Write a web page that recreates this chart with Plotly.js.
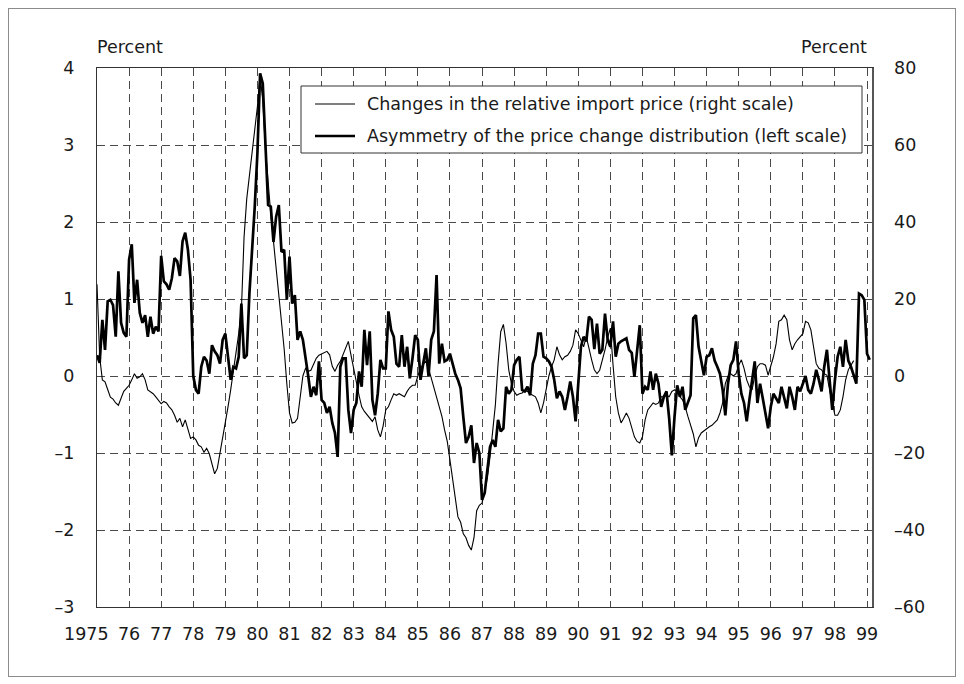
<!DOCTYPE html>
<html>
<head>
<meta charset="utf-8">
<script src="https://cdn.plot.ly/plotly-3.0.1.min.js"></script>
<style>
  html, body { margin: 0; padding: 0; background: #fff; }
  #chart { width: 964px; height: 684px; }
  #frame { position: absolute; left: 8px; top: 8px; width: 946px; height: 667px; border: 1px solid #8c8c8c; pointer-events: none; }
</style>
</head>
<body>
<div id="chart"></div>
<div id="frame"></div>
<script>
// Monthly series starting January 1975
const startYear = 1975;

// Asymmetry of the price change distribution (left scale, percent)
const asymmetry = [
  0.27, 0.17, 0.73, 0.34, 0.97, 0.99, 0.92, 0.51, 1.36, 0.69, 0.56, 0.51,
  1.51, 1.71, 0.95, 1.25, 0.82, 0.69, 0.79, 0.51, 0.77, 0.55, 0.64, 0.58,
  1.56, 1.23, 1.19, 1.12, 1.27, 1.53, 1.49, 1.30, 1.75, 1.86, 1.64, 1.25,
  0.00, -0.18, -0.23, 0.12, 0.25, 0.20, 0.03, 0.40, 0.32, 0.27, 0.16, 0.47,
  0.55, 0.21, -0.05, 0.12, 0.10, 0.25, 0.94, 0.23, 0.27, 1.07, 1.60, 2.20,
  2.90, 3.93, 3.80, 2.90, 2.22, 2.20, 1.74, 2.07, 2.22, 1.61, 1.64, 0.99,
  1.55, 0.94, 1.05, 0.47, 0.58, 0.47, 0.25, 0.00, -0.27, -0.14, -0.25, 0.19,
  -0.31, -0.35, -0.48, -0.40, -0.61, -0.74, -1.05, 0.12, 0.23, 0.23, -0.44, -0.74,
  -0.44, -0.35, 0.06, -0.14, 0.60, 0.14, 0.58, -0.31, -0.51, -0.23, 0.21, 0.10,
  0.10, 0.84, 0.60, 0.51, 0.16, 0.12, 0.53, 0.12, 0.38, -0.03, 0.23, 0.53,
  0.47, -0.05, 0.16, 0.36, 0.00, 0.47, 0.58, 1.31, 0.16, 0.42, 0.19, 0.21,
  0.29, 0.14, 0.03, -0.05, -0.16, -0.53, -0.87, -0.79, -0.64, -1.13, -0.87, -1.00,
  -1.61, -1.52, -1.18, -0.92, -0.83, -0.92, -0.57, -0.72, -0.68, -0.14, -0.23, -0.18,
  0.14, 0.21, 0.25, -0.18, -0.20, -0.14, -0.25, 0.16, 0.27, 0.55, 0.55, 0.25,
  0.23, 0.19, 0.12, -0.05, -0.29, -0.20, -0.27, -0.44, -0.27, -0.07, -0.27, -0.59,
  -0.10, 0.38, 0.51, 0.45, 0.77, 0.73, 0.35, 0.68, 0.29, 0.34, 0.81, 0.47,
  0.38, 0.71, 0.25, 0.42, 0.45, 0.47, 0.49, 0.34, 0.30, -0.01, 0.34, 0.66,
  -0.23, -0.14, -0.18, 0.06, -0.18, 0.03, -0.10, -0.40, -0.27, -0.20, -0.55, -1.03,
  -0.53, -0.12, -0.27, -0.14, -0.44, -0.35, -0.25, 0.75, 0.79, 0.38, 0.21, 0.01,
  0.25, 0.27, 0.36, 0.20, 0.12, 0.03, -0.18, -0.51, -0.10, 0.14, 0.21, 0.45,
  0.03, -0.23, -0.35, -0.59, -0.31, -0.05, 0.19, -0.35, -0.10, -0.29, -0.48, -0.68,
  -0.40, -0.23, -0.29, -0.35, -0.14, -0.27, -0.42, -0.14, -0.27, -0.44, -0.14, -0.20,
  -0.10, 0.00, -0.18, -0.23, -0.10, 0.08, -0.05, -0.20, 0.12, 0.34, -0.05, -0.44,
  -0.05, 0.25, 0.38, 0.12, 0.47, 0.20, 0.12, 0.00, -0.10, 1.07, 1.05, 0.99,
  0.29, 0.21
];

// Changes in the relative import price (right scale, percent)
const importPrice = [
  23.8, 5, -1, -1.5, -3.5, -5.5, -6, -7, -7.6, -6, -4, -3.2,
  -2.4, -1, 0.6, -0.6, -0.2, 0.6, -1, -3.6, -4, -4.6, -5.4, -6.2,
  -7.2, -6.6, -7, -8, -8.8, -10.2, -12, -11, -13.2, -11.4, -14, -16.2,
  -15.8, -16.6, -18, -18.4, -19.8, -18.8, -20.2, -22.8, -25.4, -24, -20, -17,
  -12, -8, -3.6, 1, 5.5, 11, 17, 36, 46, 52, 59, 64.8,
  70, 78, 71.6, 59, 50, 42, 35, 28.4, 21.6, 14, 7, -2,
  -9.6, -12.2, -12, -11, -5.4, 0, 2, 1.2, 1.5, 3, 4.6, 5.4,
  5.8, 6.2, 6.4, 5.5, 2.5, 1.2, 2.8, 3.8, 5.4, 7, 9, 5.4,
  1.5, -1.5, -5, -8, -9.2, -10, -11, -11.8, -10.6, -14, -15.8, -13,
  -8.8, -8, -6.2, -4.6, -5, -4.6, -5, -5.4, -4, -3, -2.4, -2.4,
  0, 2, 3, 3.8, 2, -0.5, -3, -5.5, -8, -10.5, -14, -17,
  -21.8, -27, -32, -36.6, -38, -41, -42, -44, -45.2, -42, -35, -33.6,
  -33, -30, -26.5, -21, -14, -7.5, 3.2, 11.5, 13.4, 8.5, 1.6, -2,
  -4, -5, -4.6, -4.4, -3.8, -4, -4.6, -5, -5.4, -7, -9.6, -7,
  -3.6, 0, 2.4, 4.2, 7.6, 5.5, 4.2, 5, 5.4, 6.4, 8, 12,
  11, 9.4, 7.6, 10.2, 7, 4.2, 1.6, 0.6, 1.5, 4, 6.8, 10,
  12.4, 3, -5.4, -9.6, -12.2, -11, -9.6, -11, -13.2, -15.8, -17, -17.4,
  -15.8, -11.4, -8.8, -8, -7, -7.4, -7, -5.4, -5.4, -5, -5.4, -4,
  -3.6, -3.8, -5.4, -6.2, -8, -10.5, -12.5, -15, -18.4, -16, -14.8, -14.2,
  -13.6, -13.2, -12.8, -12.2, -11.4, -9.6, -7, -2, 0, 0.6, 0, 0.6,
  2.8, 4.2, 2, -1, -2.8, -3.6, 0, 2.4, 3.2, 3.2, 2.8, 0.2,
  2.6, 5, 8.4, 14.2, 14.6, 15.8, 14.6, 9.4, 6.8, 8.4, 9.4, 10.2,
  11, 14.2, 13.8, 12, 7.6, 3.2, 2, 1.6, 0.6, 0.2, -3.6, -7,
  -10.2, -10.2, -8.8, -5.4, -1, 1.6, 2.8, 4
];

// Year ticks; the first label ("1975") is written out in full and sits left of its tick
const yearTicks = [1975, 1976, 1977, 1978, 1979, 1980, 1981, 1982, 1983, 1984, 1985, 1986,
  1987, 1988, 1989, 1990, 1991, 1992, 1993, 1994, 1995, 1996, 1997, 1998, 1999];
const yearLabels = ['1975', '76', '77', '78', '79', '80', '81', '82', '83', '84', '85', '86',
  '87', '88', '89', '90', '91', '92', '93', '94', '95', '96', '97', '98', '99'];
const leftTicks = [-3, -2, -1, 0, 1, 2, 3, 4];
const leftLabels = ['\u20133', '\u20132', '\u20131', '0', '1', '2', '3', '4'];
const rightTicks = [-60, -40, -20, 0, 20, 40, 60, 80];
const rightLabels = ['\u201360', '\u201340', '\u201320', '0', '20', '40', '60', '80'];
const seriesNames = [
  'Changes in the relative import price (right scale)',
  'Asymmetry of the price change distribution (left scale)'
];
const axisUnit = 'Percent';

const monthX = arr => arr.map((_, i) => startYear + i / 12);

const FONT = 'DejaVu Sans, Liberation Sans, Arial, sans-serif';
const FS = 17.5;
const INK = '#1a1a1a';
const GRID = '#4a4a4a';

const traces = [
  {
    x: monthX(importPrice), y: importPrice, yaxis: 'y', type: 'scatter', mode: 'lines',
    name: seriesNames[0], line: { color: '#000', width: 1.1 }, showlegend: false, hoverinfo: 'skip'
  },
  {
    x: monthX(asymmetry), y: asymmetry, yaxis: 'y2', type: 'scatter', mode: 'lines',
    name: seriesNames[1], line: { color: '#000', width: 2.7 }, showlegend: false, hoverinfo: 'skip'
  }
];

// Plot area in pixels: left 97, right 872, top 68, bottom 607
const L = 97, R = 872, T = 68, B = 607;
const px = x => (x - L) / (R - L);
const py = y => 1 - (y - T) / (B - T);

// tick labels: the 1975 one is drawn as an annotation so it can sit left of its tick
const shownYearLabels = yearLabels.map((t, i) => (i === 0 ? '' : t));

const layout = {
  width: 964, height: 684,
  margin: { l: L, r: 964 - R, t: T, b: 684 - B, pad: 0 },
  paper_bgcolor: '#fff', plot_bgcolor: '#fff',
  font: { family: FONT, size: FS, color: INK },
  showlegend: false,
  xaxis: {
    range: [1975, 1999.155], tickmode: 'array', tickvals: yearTicks, ticktext: shownYearLabels,
    tickangle: 0, automargin: false,
    showgrid: true, gridcolor: GRID, gridwidth: 1, griddash: '8px,5px',
    showline: true, linecolor: '#333', linewidth: 1.2, mirror: true,
    ticks: '', zeroline: false, ticklabelstandoff: 11,
    tickfont: { family: FONT, size: FS, color: INK }
  },
  yaxis: {
    side: 'right', range: [-60, 80], tickmode: 'array', tickvals: rightTicks, ticktext: rightLabels,
    automargin: false,
    showgrid: true, gridcolor: GRID, gridwidth: 1, griddash: '8px,5px',
    showline: true, linecolor: '#555', linewidth: 1.5, zeroline: false, ticks: '',
    ticklabelstandoff: 17, tickfont: { family: FONT, size: FS, color: INK }
  },
  yaxis2: {
    overlaying: 'y', side: 'left', range: [-3, 4], tickmode: 'array', tickvals: leftTicks, ticktext: leftLabels,
    automargin: false,
    showgrid: false, showline: true, linecolor: '#333', linewidth: 1.2, zeroline: false, ticks: '',
    ticklabelstandoff: 18, tickfont: { family: FONT, size: FS, color: INK }
  },
  shapes: [
    { type: 'rect', xref: 'paper', yref: 'paper', x0: px(301), x1: px(862), y0: py(153), y1: py(86),
      fillcolor: '#fff', line: { color: '#333', width: 1 }, layer: 'above' },
    { type: 'line', xref: 'paper', yref: 'paper', x0: px(315), x1: px(355), y0: py(104), y1: py(104),
      line: { color: '#000', width: 1.1 }, layer: 'above' },
    { type: 'line', xref: 'paper', yref: 'paper', x0: px(315), x1: px(355), y0: py(136), y1: py(136),
      line: { color: '#000', width: 2.7 }, layer: 'above' }
  ],
  annotations: [
    { text: seriesNames[0], xref: 'paper', yref: 'paper', x: px(365), y: py(104),
      xanchor: 'left', yanchor: 'middle', showarrow: false, font: { family: FONT, size: FS, color: INK } },
    { text: seriesNames[1], xref: 'paper', yref: 'paper', x: px(365), y: py(136),
      xanchor: 'left', yanchor: 'middle', showarrow: false, font: { family: FONT, size: FS, color: INK } },
    { text: axisUnit, xref: 'paper', yref: 'paper', x: px(95), y: py(47),
      xanchor: 'left', yanchor: 'middle', showarrow: false, font: { family: FONT, size: FS, color: INK } },
    { text: axisUnit, xref: 'paper', yref: 'paper', x: px(869), y: py(47),
      xanchor: 'right', yanchor: 'middle', showarrow: false, font: { family: FONT, size: FS, color: INK } },
    { text: yearLabels[0], xref: 'paper', yref: 'paper', x: px(111), y: py(634),
      xanchor: 'right', yanchor: 'middle', showarrow: false, font: { family: FONT, size: FS, color: INK } }
  ]
};

Plotly.newPlot('chart', traces, layout, { displayModeBar: false, staticPlot: true });
</script>
</body>
</html>
